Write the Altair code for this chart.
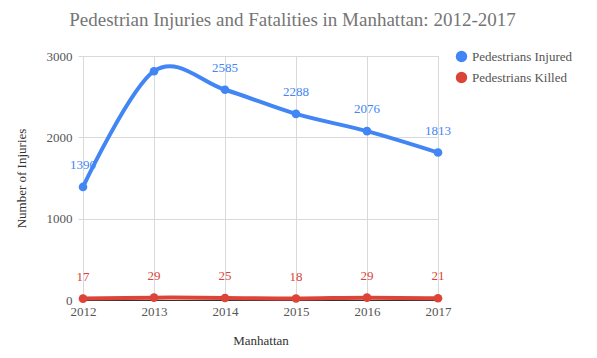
import altair as alt
import pandas as pd

years = [2012, 2013, 2014, 2015, 2016, 2017]
injured = [1390, 2813, 2585, 2288, 2076, 1813]
killed = [17, 29, 25, 18, 29, 21]
injured_labels = ["1390", "", "2585", "2288", "2076", "1813"]
killed_labels = ["17", "29", "25", "18", "29", "21"]
series = ["Pedestrians Injured", "Pedestrians Killed"]
colors = ["#4285F4", "#DB4437"]

rows = []
for y, v, l in zip(years, injured, injured_labels):
    rows.append({"year": y, "value": v, "label": l, "series": series[0]})
for y, v, l in zip(years, killed, killed_labels):
    rows.append({"year": y, "value": v, "label": l, "series": series[1]})
df = pd.DataFrame(rows)

FONT = "Liberation Serif"

x = alt.X("year:Q", scale=alt.Scale(domain=[2012, 2017], nice=False, zero=False),
          axis=alt.Axis(values=years, format="d", title="Manhattan", grid=True,
                        gridColor="#d9d9d9", domainColor="#333", ticks=False,
                        labelPadding=5, titlePadding=16, labelColor="#555",
                        titleColor="#333", labelFontSize=13, titleFontSize=13,
                        titleFontWeight="normal", labelFont=FONT, titleFont=FONT,
                        labelFlush=False))
y = alt.Y("value:Q", scale=alt.Scale(domain=[0, 3000], nice=False),
          axis=alt.Axis(values=[0, 1000, 2000, 3000], format="d", title="Number of Injuries",
                        gridColor="#d9d9d9", domain=False, tickSize=5, tickColor="#d9d9d9",
                        labelColor="#555", titleColor="#333", labelFontSize=13,
                        titleFontSize=13, titleFontWeight="normal", titlePadding=18,
                        labelPadding=6, labelFont=FONT, titleFont=FONT, labelFlush=False))
color = alt.Color("series:N", scale=alt.Scale(domain=series, range=colors),
                  legend=alt.Legend(title=None, orient="none", legendX=372, legendY=-6,
                                    symbolType="circle", symbolSize=130,
                                    labelFontSize=13, labelColor="#555", labelFont=FONT,
                                    rowPadding=7, symbolStrokeWidth=0))

base = alt.Chart(df)
line = base.mark_line(interpolate="cardinal", strokeWidth=4).encode(x=x, y=y, color=color)
pts = base.mark_circle(size=75, opacity=1).encode(x=x, y=y, color=color)
txtcolor = alt.Color("series:N", scale=alt.Scale(domain=series, range=colors), legend=None)
txt = base.mark_text(dy=-22, fontSize=13, font=FONT).encode(
    x=x, y=y, text="label:N", color=txtcolor)

chart = alt.layer(line, pts, txt).properties(
    width=355, height=244,
    title=alt.TitleParams("Pedestrian Injuries and Fatalities in Manhattan: 2012-2017",
                          fontSize=19, font=FONT, fontWeight="normal", color="#757575",
                          anchor="middle", offset=13, dx=32),
    autosize=alt.AutoSizeParams(type="none"),
    padding={"left": 75, "top": 48, "right": 150, "bottom": 48},
).configure_view(stroke=None).configure(font=FONT)

chart.save("out.html", embed_options={"renderer": "svg", "actions": False})
